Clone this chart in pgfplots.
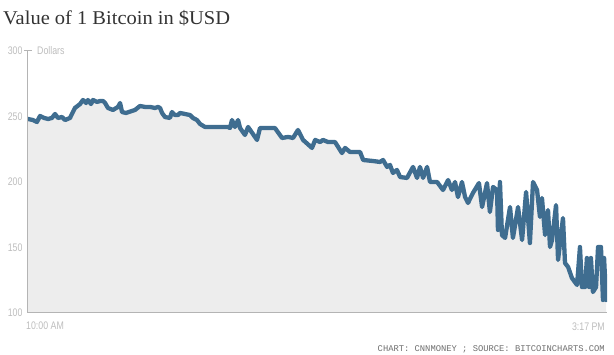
\documentclass[border=0pt]{standalone}
\usepackage{pgfplots}
\pgfplotsset{compat=1.18}
\usepackage{pgfplotstable}
\usepackage{fontspec}
\setmainfont{Liberation Sans}
\newfontfamily\titlefont[FakeStretch=1.05]{Liberation Serif}
\newfontfamily\narrowfont[FakeStretch=0.8]{Liberation Sans}
\newfontfamily\srcfont{Liberation Mono}
\definecolor{linecol}{HTML}{3F6D90}
\definecolor{fillcol}{HTML}{EDEDED}
\definecolor{axiscol}{HTML}{B4B4B4}
\definecolor{labelcol}{HTML}{BDBDBD}
\definecolor{titlecol}{HTML}{333333}
\definecolor{srccol}{HTML}{6E6E6E}

\pgfplotstableread{
t v
0 248.1
2.7 247.3
4.9 245.8
6.6 250.4
8.8 248.9
11.0 248.1
13.1 248.9
14.8 251.9
16.4 248.9
18.6 249.6
20.3 247.3
23.0 248.9
25.7 256.5
28.5 259.5
30.1 262.6
31.8 260.3
32.8 262.6
34.5 259.5
35.6 262.6
37.8 261.1
39.4 261.8
41.1 261.8
42.2 260.3
43.8 256.5
46.5 255.0
49.3 257.3
50.4 260.3
51.5 253.4
53.7 252.7
56.9 254.2
58.6 255.0
61.3 258.0
64.1 257.3
66.8 257.3
69.5 256.5
71.2 257.3
72.3 256.5
73.4 252.7
75.0 249.6
77.7 248.9
78.8 253.4
80.5 251.1
82.1 251.1
83.2 252.7
86.0 251.9
88.7 251.1
90.3 248.9
92.5 247.3
94.2 244.3
96.9 242.0
102.4 242.0
107.9 242.0
109.5 242.0
110.6 241.2
111.7 247.3
113.3 242.0
115.0 247.3
116.1 241.2
118.8 235.9
120.5 242.0
125.4 232.1
127.0 241.2
135.2 241.2
139.1 233.6
142.4 234.4
145.1 233.6
147.8 239.7
150.6 232.1
155.5 226.0
157.2 232.1
159.9 230.5
161.5 232.1
164.3 230.5
168.1 230.5
171.9 222.1
173.6 226.0
176.3 222.9
181.8 222.9
183.5 216.8
189.0 216.0
192.7 215.3
194.4 216.8
196.6 211.5
198.2 213.0
199.8 206.9
202.0 209.2
203.7 203.8
207.5 203.1
210.8 211.5
213.0 203.1
214.6 211.5
216.3 203.1
218.5 211.5
220.1 200.0
224.0 200.0
227.2 193.9
230.0 201.5
232.1 193.9
233.8 200.0
235.4 188.5
237.6 200.0
239.3 188.5
240.9 184.0
243.6 191.6
246.9 199.2
248.6 180.9
251.3 199.2
252.9 177.1
254.6 196.2
256.8 193.9
257.3 163.4
258.4 200.0
259.5 159.5
261.2 157.3
263.9 180.9
265.5 157.3
268.3 180.9
270.5 155.7
272.7 192.4
274.8 153.4
276.5 200.0
278.7 193.9
280.3 173.3
281.4 187.8
283.1 159.5
284.7 178.6
285.8 150.4
286.9 155.7
289.1 182.4
290.2 140.5
292.9 172.5
294.0 138.2
295.7 135.1
297.8 126.7
300.6 121.4
302.2 150.4
303.3 119.8
305.0 119.8
306.0 142.0
307.2 119.8
308.2 142.0
309.3 116.0
311.0 119.8
312.1 150.4
313.7 150.4
314.8 109.9
315.4 142.0
316.5 109.9
}\btc

\begin{document}
\begin{tikzpicture}[x=1pt,y=1pt]
\useasboundingbox (0pt,0pt) rectangle (614pt,355pt);
\begin{axis}[
  at={(28pt,42pt)}, anchor=south west,
  scale only axis, width=579pt, height=262pt,
  xmin=0, xmax=317, ymin=100, ymax=300,
  axis lines*=left,
  axis line style={axiscol, line width=1pt},
  axis on top,
  xtick=\empty,
  ytick={100,150,200,250,300},
  major tick length=0pt,
  /pgf/number format/assume math mode=true,
  yticklabel style={font=\narrowfont\fontsize{11}{11}\selectfont, text=labelcol, xshift=-2pt},
  extra y ticks={300}, extra y tick labels={},
  extra y tick style={major tick length=8pt, tick align=center, tick style={axiscol, line width=1pt}},
]
\addplot[fill=fillcol, draw=none] table[x=t,y=v]{\btc} \closedcycle;
\addplot[linecol, line width=4.3pt, line join=round, line cap=round] table[x=t,y=v]{\btc};
\end{axis}
\node[anchor=base west, inner sep=0pt, font=\titlefont\fontsize{19.5}{19.5}\selectfont, text=titlecol] at (3pt,330pt) {Value of 1 Bitcoin in \$USD};
\node[anchor=west, inner sep=0pt, font=\narrowfont\fontsize{11}{11}\selectfont, text=labelcol] at (37pt,304pt) {Dollars};
\node[anchor=west, inner sep=0pt, font=\narrowfont\fontsize{11}{11}\selectfont, text=labelcol] at (26pt,29pt) {10:00 AM};
\node[anchor=east, inner sep=0pt, font=\narrowfont\fontsize{11}{11}\selectfont, text=labelcol] at (605pt,28pt) {3:17 PM};
\node[anchor=east, inner sep=0pt, font=\srcfont\fontsize{8.8}{8.8}\selectfont, text=srccol] at (605pt,6pt) {CHART: CNNMONEY ; SOURCE: BITCOINCHARTS.COM};
\end{tikzpicture}
\end{document}
